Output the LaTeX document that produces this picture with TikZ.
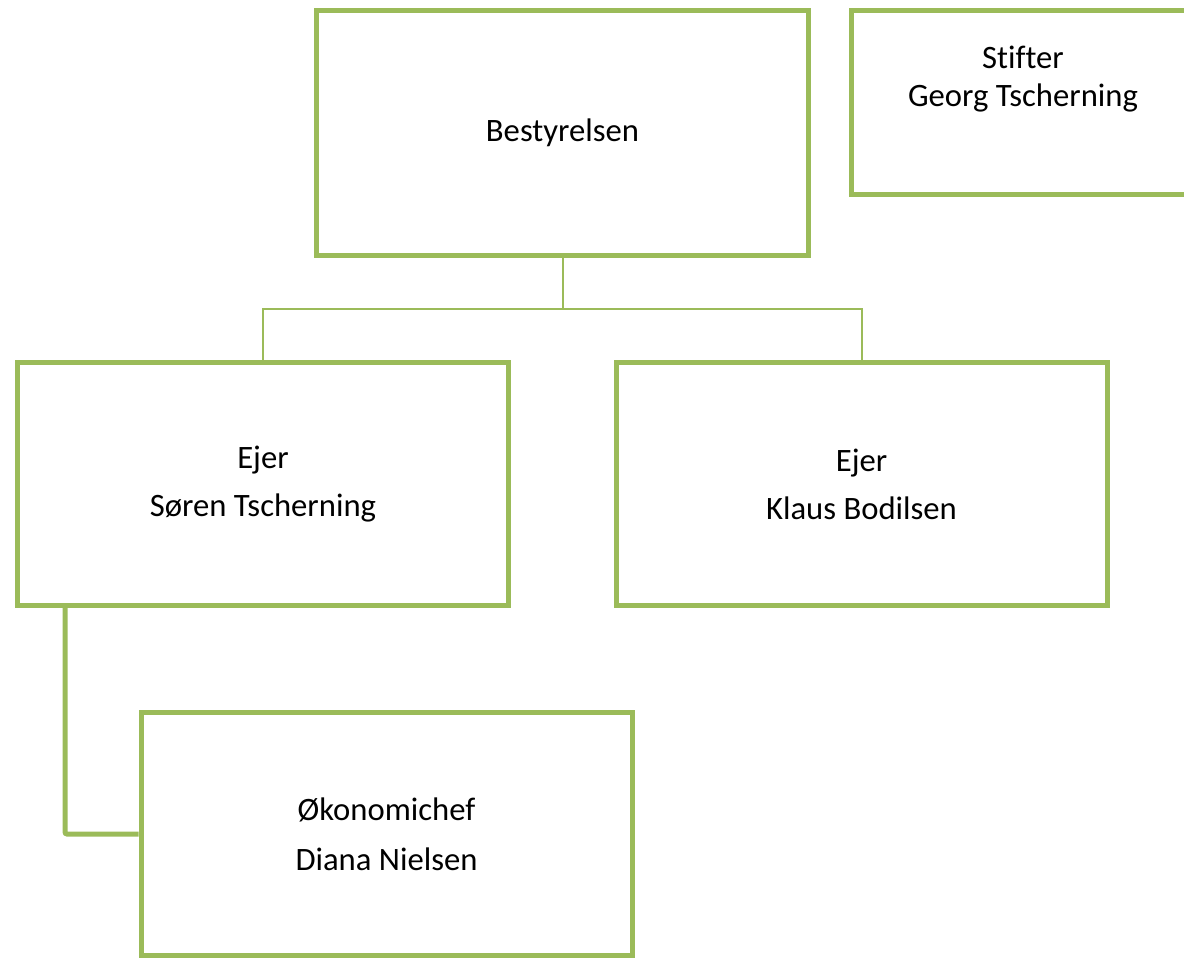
\documentclass[tikz,border=0pt]{standalone}
\usepackage{fontspec}
\setmainfont[Ligatures=NoCommon]{Carlito}
\usetikzlibrary{positioning}

\newlength{\px}
\setlength{\px}{0.75pt}
\definecolor{boxgreen}{rgb}{0.608, 0.733, 0.349}

\tikzset{
  orgbox/.style={draw=boxgreen, line width=5\px, fill=white, align=center,
    minimum width=491\px, minimum height=243\px, inner sep=0pt,
    font=\fontsize{24.5}{36}\selectfont},
  thinlink/.style={draw=boxgreen, line width=2\px},
  thicklink/.style={draw=boxgreen, line width=5\px, rounded corners=2\px},
}

\begin{document}
\begin{tikzpicture}[x=\px, y=-\px]
\useasboundingbox (0,0) rectangle (1184,957);
% boxes
\node[orgbox, minimum width=492\px, minimum height=245\px] (board) at (562.5,133) {Bestyrelsen};
\node[orgbox, minimum width=343\px, minimum height=184\px] (founder) at (1023,102.5) {};
\node[font=\fontsize{24.5}{28}\selectfont, align=center] (foundertext) at (1023,79) {Stifter\\Georg Tscherning};
\node[orgbox] (owner1) at (263,484) {Ejer\\Søren Tscherning};
\node[orgbox] (owner2) at (861.5,484) {Ejer\\Klaus Bodilsen};
\node[orgbox, font=\fontsize{24.5}{37.5}\selectfont] (cfo) at (386.5,834) {Økonomichef\\Diana Nielsen};
% links
\draw[thinlink] (board.south) -- ++(0,51) -| (owner1.north);
\draw[thinlink] (board.south) -- ++(0,51) -| (owner2.north);
\draw[thicklink] ([xshift=50\px]owner1.south west) |- (cfo.west);
\end{tikzpicture}
\end{document}
